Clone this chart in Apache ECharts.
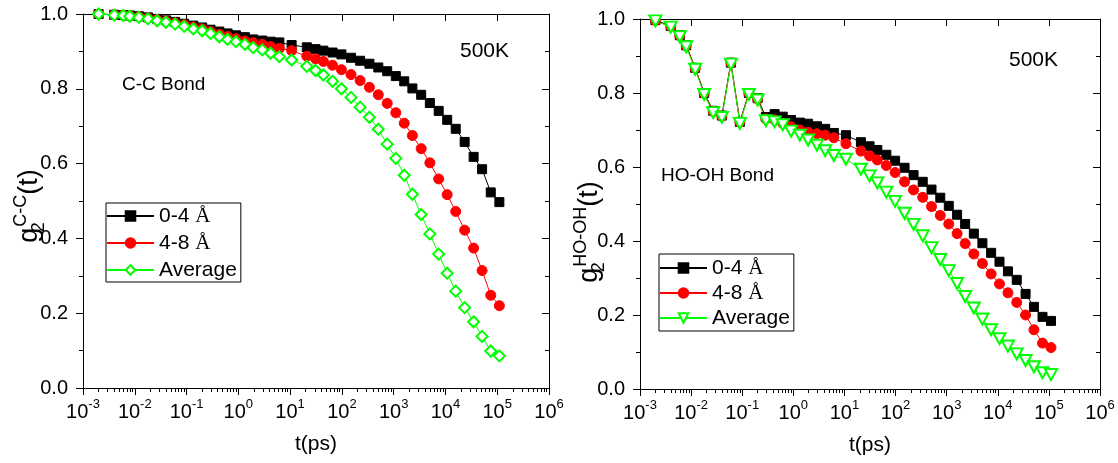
<!DOCTYPE html>
<html>
<head>
<meta charset="utf-8">
<title>g2 orientational correlation, 500K</title>
<script src="https://cdn.jsdelivr.net/npm/echarts@6/dist/echarts.min.js"></script>
<style>
  html, body { margin: 0; padding: 0; background: #fff; }
  #wrap { position: relative; width: 1118px; height: 463px; overflow: hidden; }
  #panelCC, #panelOH { position: absolute; top: 0; height: 463px; }
  #panelCC { left: 0; width: 600px; }
  #panelOH { left: 559px; width: 559px; }
</style>
</head>
<body>
<div id="wrap">
  <div id="panelCC"></div>
  <div id="panelOH"></div>
</div>
<script>
// Correlation time grid shared by every curve (ps)
const TIME_PS = [0.002, 0.004, 0.006, 0.008, 0.012, 0.018, 0.027, 0.04, 0.06, 0.09,
  0.135, 0.2, 0.29, 0.43, 0.62, 0.9, 1.34, 1.94, 2.9, 4.2,
  6.2, 10.7, 21, 31, 44, 66, 98, 150, 225, 340,
  505, 750, 1100, 1600, 2300, 3400, 5000, 7400, 10800, 15800,
  23500, 35000, 51000, 75000, 110000];

// C-C bond, g2(t)
const CC_SHELL_0_4 = [1.000, 0.998, 0.997, 0.996, 0.994, 0.991, 0.987, 0.983, 0.979, 0.974,
  0.969, 0.964, 0.958, 0.953, 0.948, 0.943, 0.938, 0.932, 0.929, 0.926,
  0.924, 0.917, 0.911, 0.906, 0.902, 0.897, 0.892, 0.883, 0.875, 0.867,
  0.857, 0.847, 0.834, 0.820, 0.801, 0.784, 0.762, 0.741, 0.717, 0.693,
  0.658, 0.618, 0.585, 0.523, 0.497];
const CC_SHELL_4_8 = [1.000, 0.998, 0.997, 0.995, 0.993, 0.989, 0.985, 0.981, 0.976, 0.971,
  0.965, 0.960, 0.953, 0.946, 0.940, 0.934, 0.928, 0.923, 0.919, 0.913,
  0.908, 0.902, 0.887, 0.880, 0.873, 0.863, 0.851, 0.838, 0.822, 0.804,
  0.784, 0.761, 0.736, 0.708, 0.675, 0.640, 0.602, 0.559, 0.517, 0.472,
  0.422, 0.374, 0.314, 0.248, 0.220];
const CC_AVERAGE = [1.000, 0.997, 0.996, 0.994, 0.991, 0.987, 0.982, 0.978, 0.973, 0.967,
  0.960, 0.955, 0.948, 0.939, 0.932, 0.926, 0.919, 0.910, 0.904, 0.895,
  0.886, 0.877, 0.860, 0.849, 0.837, 0.820, 0.800, 0.777, 0.751, 0.724,
  0.692, 0.652, 0.614, 0.569, 0.518, 0.464, 0.412, 0.358, 0.307, 0.259,
  0.215, 0.177, 0.138, 0.099, 0.086];

// HO-OH bond, g2(t)
const OH_SHELL_0_4 = [0.997, 0.981, 0.956, 0.929, 0.868, 0.800, 0.752, 0.739, 0.882, 0.722,
  0.800, 0.786, 0.735, 0.743, 0.736, 0.727, 0.720, 0.717, 0.710, 0.703,
  0.692, 0.686, 0.667, 0.656, 0.646, 0.633, 0.617, 0.598, 0.578, 0.560,
  0.539, 0.517, 0.495, 0.471, 0.446, 0.420, 0.394, 0.368, 0.344, 0.318,
  0.295, 0.257, 0.222, 0.195, 0.184];
const OH_SHELL_4_8 = [0.996, 0.980, 0.955, 0.928, 0.867, 0.799, 0.750, 0.737, 0.881, 0.721,
  0.799, 0.784, 0.730, 0.727, 0.718, 0.709, 0.700, 0.694, 0.690, 0.686,
  0.679, 0.663, 0.643, 0.630, 0.619, 0.604, 0.585, 0.560, 0.538, 0.518,
  0.493, 0.469, 0.446, 0.420, 0.393, 0.365, 0.339, 0.311, 0.284, 0.260,
  0.234, 0.200, 0.160, 0.124, 0.112];
const OH_AVERAGE = [0.995, 0.978, 0.952, 0.925, 0.864, 0.796, 0.747, 0.734, 0.878, 0.718,
  0.796, 0.781, 0.725, 0.722, 0.714, 0.697, 0.686, 0.673, 0.659, 0.644,
  0.631, 0.621, 0.594, 0.576, 0.557, 0.532, 0.507, 0.475, 0.445, 0.414,
  0.382, 0.350, 0.320, 0.285, 0.250, 0.219, 0.189, 0.160, 0.136, 0.116,
  0.095, 0.077, 0.060, 0.044, 0.039];

const SERIES_NAMES = ['0-4 Å', '4-8 Å', 'Average'];
const X_EXPONENTS = [-3, -2, -1, 0, 1, 2, 3, 4, 5, 6];
const Y_MIN = 0, Y_MAX = 1, Y_STEP = 0.2;

const FONT = '"Liberation Sans", Arial, Helvetica, sans-serif';
const SERIF = '"Liberation Serif", "Times New Roman", serif';
const BLACK = '#000000', RED = '#ff0000', GREEN = '#00ff00';

const DECADES = X_EXPONENTS.map(e => Number('1e' + e));
const MINOR_X = [];
X_EXPONENTS.slice(0, -1).forEach(e => {
  for (let k = 2; k <= 9; k++) MINOR_X.push(Number(k + 'e' + e));
});

function pair(ys) { return TIME_PS.map((t, i) => [t, ys[i]]); }

function xAxes(name) {
  const base = {
    type: 'log', logBase: 10, min: DECADES[0], max: DECADES[DECADES.length - 1],
    splitLine: { show: false }, axisPointer: { show: false }
  };
  const line = { show: true, onZero: false, lineStyle: { color: BLACK, width: 1 } };
  const tick = (vals, len, inside) => ({
    show: true, inside: inside, length: len, customValues: vals,
    lineStyle: { color: BLACK, width: 1 }
  });
  return [
    Object.assign({}, base, {
      position: 'bottom', axisLine: line, axisTick: tick(DECADES, 7, false),
      axisLabel: {
        show: true, customValues: DECADES, margin: 10, color: BLACK,
        formatter: v => '{b|10}{s|' + Math.round(Math.log10(v)) + '}',
        rich: {
          b: { fontFamily: FONT, fontSize: 20, lineHeight: 24, verticalAlign: 'bottom', color: BLACK },
          s: { fontFamily: FONT, fontSize: 13, lineHeight: 11, verticalAlign: 'top', color: BLACK }
        }
      },
      name: name, nameLocation: 'middle', nameGap: 46, nameMoveOverlap: false,
      nameTextStyle: { fontFamily: FONT, fontSize: 21, color: BLACK }
    }),
    Object.assign({}, base, {
      position: 'bottom', axisLine: { show: false }, axisTick: tick(MINOR_X, 4, false),
      axisLabel: { show: false }
    }),
    Object.assign({}, base, {
      position: 'top', axisLine: line, axisTick: tick(DECADES, 7, true),
      axisLabel: { show: false }
    }),
    Object.assign({}, base, {
      position: 'top', axisLine: { show: false }, axisTick: tick(MINOR_X, 4, true),
      axisLabel: { show: false }
    })
  ];
}

// shift: how far the rotated title slides down along the axis (px)
function yAxes(sup, nameGap, shift) {
  const base = {
    type: 'value', min: Y_MIN, max: Y_MAX, interval: Y_STEP,
    splitLine: { show: false }, axisPointer: { show: false },
    axisLine: { show: true, onZero: false, lineStyle: { color: BLACK, width: 1 } },
    minorTick: { show: true, splitNumber: 2, length: 4, lineStyle: { color: BLACK, width: 1 } },
    minorSplitLine: { show: false }
  };
  return [
    Object.assign({}, base, {
      position: 'left',
      axisTick: { show: true, inside: false, length: 7, lineStyle: { color: BLACK, width: 1 } },
      axisLabel: {
        show: true, margin: 15, color: BLACK, fontFamily: FONT, fontSize: 20,
        formatter: v => v.toFixed(1)
      },
      name: '{g|g}{s|2}{p|' + sup + '}{t|(t)}',
      nameLocation: 'middle', nameRotate: 90, nameGap: nameGap, nameMoveOverlap: false,
      nameTextStyle: {
        color: BLACK, fontFamily: FONT, fontSize: 27,
        padding: [0, 2 * shift, 0, 0],
        rich: {
          g: { fontFamily: FONT, fontSize: 27, lineHeight: 36, color: BLACK },
          s: { fontFamily: FONT, fontSize: 18, lineHeight: 17, verticalAlign: 'bottom', width: 1, color: BLACK },
          p: { fontFamily: FONT, fontSize: 18, lineHeight: 17, verticalAlign: 'top', color: BLACK },
          t: { fontFamily: FONT, fontSize: 27, lineHeight: 36, color: BLACK }
        }
      }
    }),
    Object.assign({}, base, {
      position: 'right',
      axisTick: { show: true, inside: true, length: 7, lineStyle: { color: BLACK, width: 1 } },
      axisLabel: { show: false }
    })
  ];
}

function curve(name, ys, symbol, size, color, extra) {
  return Object.assign({
    type: 'line', name: name, data: pair(ys), xAxisIndex: 0, yAxisIndex: 0,
    symbol: symbol, symbolSize: size, showAllSymbol: true, clip: false,
    lineStyle: { color: color, width: 1 },
    itemStyle: { color: color, borderColor: color, borderWidth: 1 },
    emphasis: { disabled: true }, animation: false
  }, extra || {});
}

function legend(box, gap, pad) {
  return {
    show: true, orient: 'vertical', left: box[0], top: box[1],
    itemWidth: 47, itemHeight: 12, itemGap: gap, padding: pad,
    borderColor: BLACK, borderWidth: 1, backgroundColor: '#fff',
    selectedMode: false, data: SERIES_NAMES,
    formatter: n => n.replace('Å', '{a|Å}'),
    textStyle: {
      fontFamily: FONT, fontSize: 21, lineHeight: 22, color: BLACK,
      rich: { a: { fontFamily: SERIF, fontSize: 21, lineHeight: 22, color: BLACK } }
    }
  };
}

function label(x, y, text, size) {
  return {
    type: 'text', x: x, y: y, silent: true,
    style: { text: text, fill: BLACK, font: size + 'px ' + FONT, align: 'left', verticalAlign: 'middle' }
  };
}

const panelCC = {
  animation: false,
  grid: { left: 83, top: 14, width: 466, height: 374, containLabel: false, outerBoundsMode: 'none' },
  xAxis: xAxes('t(ps)'),
  yAxis: yAxes('C-C', 35, 5),
  legend: legend([106, 203], 5, [2, 4, 1, 0]),
  graphic: [label(122, 85, 'C-C Bond', 19), label(460, 51, '500K', 21)],
  series: [
    curve(SERIES_NAMES[0], CC_SHELL_0_4, 'rect', 9, BLACK),
    curve(SERIES_NAMES[1], CC_SHELL_4_8, 'circle', 10, RED),
    curve(SERIES_NAMES[2], CC_AVERAGE, 'emptyDiamond', 11, GREEN)
  ]
};

const panelOH = {
  animation: false,
  grid: { left: 81, top: 19, width: 460, height: 370, containLabel: false, outerBoundsMode: 'none' },
  xAxis: xAxes('t(ps)'),
  yAxis: yAxes('HO-OH', 32, 28),
  legend: legend([100, 254], 3, [3, 4, 2, 0]),
  graphic: [label(102, 176, 'HO-OH Bond', 19), label(450, 60, '500K', 21)],
  series: [
    curve(SERIES_NAMES[0], OH_SHELL_0_4, 'rect', 9, BLACK),
    curve(SERIES_NAMES[1], OH_SHELL_4_8, 'circle', 10, RED),
    curve(SERIES_NAMES[2], OH_AVERAGE, 'emptyTriangle', [12, 11], GREEN, { symbolRotate: 180 })
  ]
};

echarts.init(document.getElementById('panelCC'), null, { renderer: 'canvas' }).setOption(panelCC);
echarts.init(document.getElementById('panelOH'), null, { renderer: 'canvas' }).setOption(panelOH);
</script>
</body>
</html>
